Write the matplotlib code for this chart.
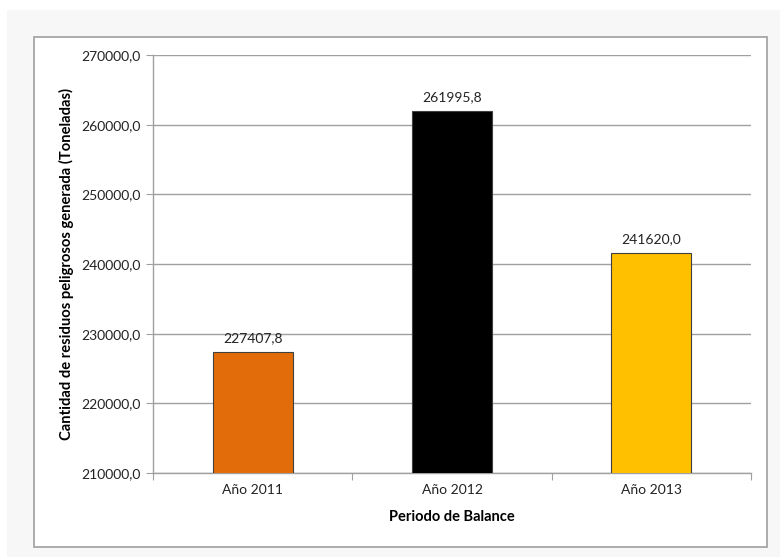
import matplotlib.pyplot as plt
import matplotlib.patches as mpatches
import numpy as np

plt.rcParams['font.family'] = ['Lato', 'DejaVu Sans']

periodos = ['Año 2011', 'Año 2012', 'Año 2013']
toneladas = [227407.8, 261995.8, 241620.0]
colores = ['#E36C0A', '#000000', '#FFC000']
yticks = [210000, 220000, 230000, 240000, 250000, 260000, 270000]

def fmt(v):
    return ('%.1f' % v).replace('.', ',')

fig = plt.figure(figsize=(7.8, 5.57), dpi=100)
fig.patch.set_facecolor('white')

# light background and chart frame
fig.patches.append(mpatches.Rectangle((7/780, 0), 1, 1 - 10/557, transform=fig.transFigure,
                                      facecolor='#f7f7f7', edgecolor='none', zorder=-2))
fig.patches.append(mpatches.Rectangle((34/780, 1 - 547/557), 733/780, 510/557, transform=fig.transFigure,
                                      facecolor='white', edgecolor='#a6a6a6', linewidth=1.3, zorder=-1))

ax = fig.add_axes([153/780, 1 - 473/557, 598/780, 418/557])
ax.set_facecolor('none')

x = np.arange(len(periodos))
ax.bar(x, toneladas, width=0.4, color=colores, edgecolor='#404040', linewidth=0.8, zorder=3)
for xi, v in zip(x, toneladas):
    ax.text(xi, v + 1100, fmt(v), ha='center', va='bottom', fontsize=10, color='#222222')

ax.set_xlim(-0.5, 2.5)
ax.set_ylim(210000, 270000)
ax.set_yticks(yticks)
ax.set_yticklabels([fmt(t) for t in yticks], fontsize=10, color='#222222')
ax.yaxis.grid(True, color='#a0a0a0', linewidth=1, zorder=0)
ax.set_axisbelow(True)

# category ticks sit on the boundaries, labels in the middle
ax.set_xticks([-0.5, 0.5, 1.5, 2.5])
ax.set_xticklabels([])
ax.set_xticks(x, minor=True)
ax.set_xticklabels(periodos, minor=True, fontsize=10, color='#222222')
ax.tick_params(axis='x', which='minor', length=0, pad=8)
ax.tick_params(axis='x', which='major', length=5, color='#a0a0a0')
ax.tick_params(axis='y', length=5, color='#a0a0a0', pad=4)

for s in ['top', 'right']:
    ax.spines[s].set_visible(False)
for s in ['left', 'bottom']:
    ax.spines[s].set_color('#a0a0a0')
    ax.spines[s].set_linewidth(1)

ax.set_xlabel('Periodo de Balance', fontsize=10.5, fontweight='bold', labelpad=10)
ax.set_ylabel('Cantidad de residuos peligrosos generada (Toneladas)', fontsize=10.6,
              fontweight='bold', labelpad=5)

fig.savefig('out.png', dpi=100)
